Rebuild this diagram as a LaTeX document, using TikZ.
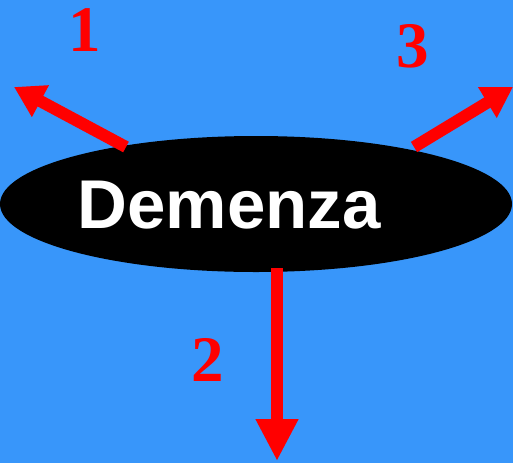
\documentclass[tikz,border=0pt]{standalone}
\usepackage{fontspec}
\setmainfont{Liberation Serif}
\newfontfamily\labelsans{Liberation Sans}
\usetikzlibrary{shapes.geometric,arrows.meta}
\definecolor{bgblue}{RGB}{56,150,250}
\definecolor{arrred}{RGB}{255,0,0}
\tikzset{
  blob/.style={ellipse,fill=black,draw=none,inner sep=0pt,minimum width=512pt,minimum height=136pt},
  title/.style={text=white,font=\labelsans\bfseries\fontsize{69}{69}\selectfont,inner sep=0pt,anchor=center},
  numlab/.style={text=arrred,font=\bfseries\fontsize{65}{65}\selectfont,inner sep=0pt},
  redarrow/.style={draw=arrred,line width=12pt,-{Triangle[width=34pt,length=30pt]}},
  downarrow/.style={draw=arrred,line width=12pt,-{Triangle[width=40pt,length=42pt]}}
}
\begin{document}
\begin{tikzpicture}[x=1pt,y=-1pt]
\useasboundingbox[fill=bgblue] (0,0) rectangle (513,463);
\node[blob] (e) at (256,204) {};
\node[title] (t) at (229,205) {Demenza};
\coordinate (s1) at (126,147);
\coordinate (t1) at (14,87);
\coordinate (s3) at (414,147);
\coordinate (t3) at (513,87);
\coordinate (s2) at (277,268);
\coordinate (t2) at (277,461);
\draw[redarrow] (s1) -- (t1);
\draw[redarrow] (s3) -- (t3);
\draw[downarrow] (s2) -- (t2);
\node[numlab] (n1) at (85,30) {1};
\node[numlab] (n3) at (413,46) {3};
\node[numlab] (n2) at (208,360) {2};
\end{tikzpicture}
\end{document}
